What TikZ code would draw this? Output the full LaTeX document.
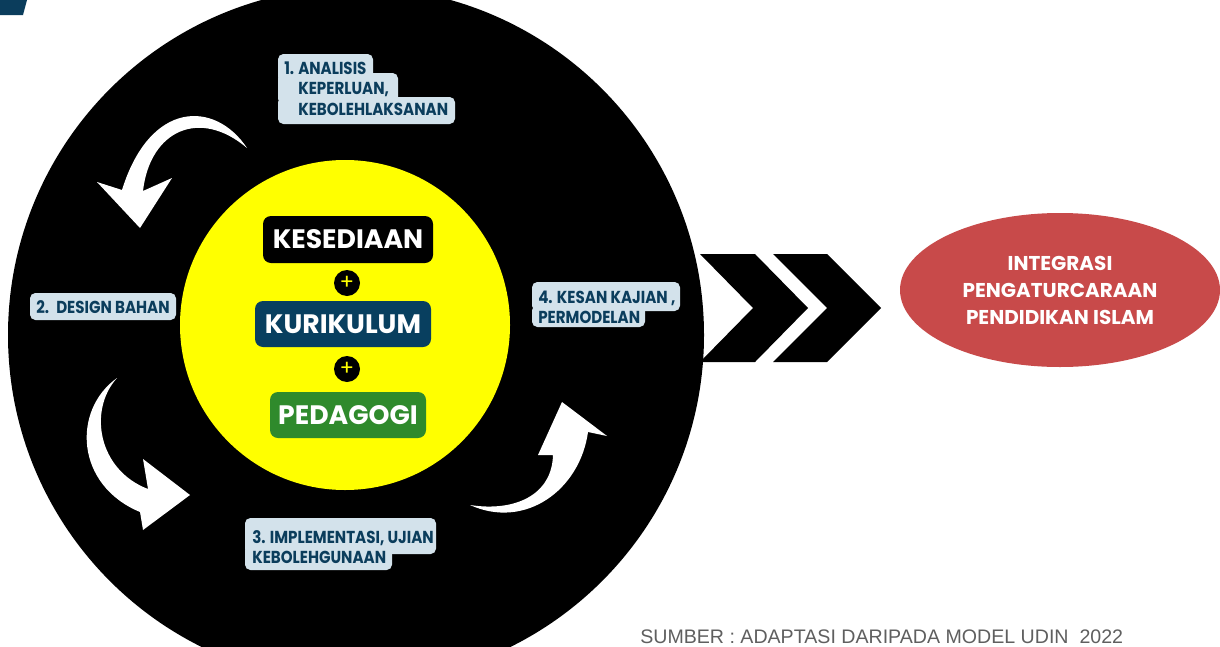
\documentclass[tikz,border=0pt]{standalone}
\usepackage{fontspec}
\setmainfont{Poppins}
\newfontfamily\lblfont{Poppins}[FakeStretch=0.87]
\newfontfamily\arialf{Liberation Sans}
\usetikzlibrary{shapes.geometric}
\definecolor{navy}{RGB}{11,61,92}
\definecolor{kblue}{RGB}{8,63,95}
\definecolor{lblbg}{RGB}{211,226,235}
\definecolor{pgreen}{RGB}{47,138,44}
\definecolor{ered}{RGB}{200,74,74}
\definecolor{grayt}{RGB}{95,95,95}
\definecolor{pyellow}{RGB}{255,255,0}
\tikzset{
  lbl/.style={anchor=base west, inner sep=0pt, text=navy, font=\lblfont\bfseries\fontsize{13}{15}\selectfont},
  lblbox/.style={fill=lblbg, rounded corners=4pt},
  corebox/.style={rounded corners=6pt, text=white, font=\bfseries\fontsize{20}{22}\selectfont, inner sep=0pt},
  plus/.style={circle, fill=black, minimum size=19.5pt, inner sep=0pt, text=pyellow, font=\fontsize{16}{16}\selectfont},
  arr/.style={fill=white},
  chev/.style={fill=black}
}
\begin{document}
\begin{tikzpicture}[x=0.75pt,y=-0.75pt]
\useasboundingbox (0,0) rectangle (1220,646);
\clip (0,0) rectangle (1220,646);
\fill[white] (0,0) rectangle (1220,646);
\fill[navy] (0,0) -- (27,0) -- (23,15) -- (0,15) -- cycle;
% big black circle and yellow circle
\fill[black] (356,335) circle[radius=348];
\fill[pyellow] (345,325) circle[radius=165];
% core boxes
\node[corebox, fill=black, minimum width=127.5pt, minimum height=35.25pt] (kes) at (348,239.5) {KESEDIAAN};
\node[plus] (p1) at (347,283) {+};
\node[corebox, fill=kblue, minimum width=132pt, minimum height=34.5pt] (kur) at (343,324) {KURIKULUM};
\node[plus] (p2) at (347,369) {+};
\node[corebox, fill=pgreen, minimum width=117pt, minimum height=34.5pt] (ped) at (348,415) {PEDAGOGI};
% curved arrows
\fill[arr] (247,148) .. controls (215,100) and (150,100) .. (122,190)
  -- (97,182) -- (140,228) -- (172,178) -- (143,191)
  .. controls (150,130) and (200,108) .. (247,148) -- cycle;
\fill[arr] (117,378) .. controls (72,410) and (75,485) .. (140,512)
  -- (143,530) -- (190,495) -- (143,459) -- (148,489)
  .. controls (98,470) and (88,410) .. (117,378) -- cycle;
\fill[arr] (470,505) .. controls (525,530) and (580,490) .. (588,432)
  -- (607,436) -- (562,402) -- (538,455) -- (553,455)
  .. controls (552,495) and (515,512) .. (470,505) -- cycle;
% label 1
\fill[lblbox] (278,54) rectangle (373,82);
\fill[lblbox] (278,73) rectangle (398,104);
\fill[lblbox] (278,97) rectangle (455,124);
\fill[lblbg] (279,60) rectangle (372,120);
\fill[lblbg] (279,80) rectangle (397,120);
\node[lbl] (l1n) at (284,74) {1.};
\node[lbl] (l1a) at (298,74) {ANALISIS};
\node[lbl] (l1b) at (298,94) {KEPERLUAN,};
\node[lbl] (l1c) at (298,115) {KEBOLEHLAKSANAN};
% label 2
\fill[lblbox] (30,293) rectangle (176,320);
\node[lbl] (l2n) at (36,313.5) {2.};
\node[lbl] (l2a) at (56,313.5) {DESIGN BAHAN};
% label 3
\fill[lblbox] (245,518) rectangle (436,554);
\fill[lblbox] (245,545) rectangle (392,570);
\fill[lblbg] (246,530) rectangle (391,560);
\node[lbl] (l3a) at (252,543) {3. IMPLEMENTASI, UJIAN};
\node[lbl] (l3b) at (252,563) {KEBOLEHGUNAAN};
% label 4
\fill[lblbox] (532,282) rectangle (680,311);
\fill[lblbox] (532,305) rectangle (645,327);
\fill[lblbg] (533,295) rectangle (644,318);
\node[lbl] (l4a) at (538,303) {4. KESAN KAJIAN ,};
\node[lbl] (l4b) at (538,323) {PERMODELAN};
% chevrons
\fill[chev] (700,254) -- (755,254) -- (808,308) -- (755,362) -- (700,362) -- (753,308) -- cycle;
\fill[chev] (773,254) -- (827,254) -- (881,308) -- (827,362) -- (773,362) -- (827,308) -- cycle;
% goal ellipse
\node[ellipse, fill=ered, minimum width=240pt, minimum height=115.5pt, inner sep=0pt] (goal) at (1060,290) {};
\node[align=center, text=white, font=\bfseries\fontsize{15}{20.25}\selectfont, inner sep=0pt] (goalt) at (goal.center) {INTEGRASI\\PENGATURCARAAN\\PENDIDIKAN ISLAM};
% source
\node[anchor=base west, inner sep=0pt, text=grayt, font=\arialf\fontsize{14.7}{16}\selectfont] (src) at (640,643) {SUMBER : ADAPTASI DARIPADA MODEL UDIN\ \ 2022};
\end{tikzpicture}
\end{document}
